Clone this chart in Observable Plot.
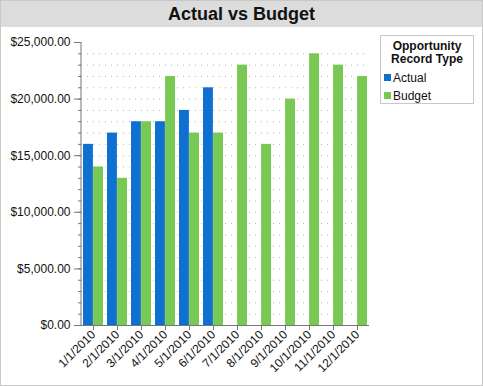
<!DOCTYPE html>
<html>
<head>
<meta charset="utf-8">
<script src="https://cdn.jsdelivr.net/npm/d3@7"></script>
<script src="https://cdn.jsdelivr.net/npm/@observablehq/plot@0.6"></script>
<style>
  body { margin: 0; background: #fff; font-family: "Liberation Sans", Arial, sans-serif; }
  #wrap { position: relative; width: 483px; height: 386px; overflow: hidden; background: #fff; }
  #border { position: absolute; left: 0; top: 0; width: 483px; height: 386px; box-sizing: border-box; border: 1px solid #c8c8c8; pointer-events: none; }
  #title { position: absolute; left: 0; top: 0; width: 483px; height: 27px; background: #dcdcdc; text-align: center; line-height: 29px; font-weight: bold; font-size: 18px; color: #111; }
  #chart { position: absolute; left: 0; top: 27px; }
  #legend { position: absolute; left: 380px; top: 35px; width: 94px; height: 69px; box-sizing: border-box; border: 1px solid #c8c8c8; background: #fff; font-size: 12px; color: #111; }
  #legend .lt { text-align: center; font-weight: bold; line-height: 13px; margin-top: 4px; margin-bottom: 3px; }
  #legend .item { position: relative; height: 18px; line-height: 18px; padding-left: 12px; }
  #legend .sw { position: absolute; left: 3px; top: 5px; width: 7px; height: 7px; }
</style>
</head>
<body>
<div id="wrap">
  <div id="title">Actual vs Budget</div>
  <div id="chart"></div>
  <div id="legend"></div>
  <div id="border"></div>
</div>
<script>
const months = ["1/1/2010","2/1/2010","3/1/2010","4/1/2010","5/1/2010","6/1/2010","7/1/2010","8/1/2010","9/1/2010","10/1/2010","11/1/2010","12/1/2010"];
const actualValues = [16000, 17000, 18000, 18000, 19000, 21000];
const budgetValues = [14000, 13000, 18000, 22000, 17000, 17000, 23000, 16000, 20000, 24000, 23000, 22000];
const seriesNames = ["Actual", "Budget"];
const seriesColors = ["#0e70d0", "#78c953"];
const yMajorTicks = [0, 5000, 10000, 15000, 20000, 25000];
const yMinorTicks = [0,1000,2000,3000,4000,5000,6000,7000,8000,9000,10000,11000,12000,13000,14000,15000,16000,17000,18000,19000,20000,21000,22000,23000,24000,25000];
const gridTicks = [1000,2000,3000,4000,5000,6000,7000,8000,9000,10000,11000,12000,13000,14000,15000,16000,17000,18000,19000,20000,21000,22000,23000,24000];
const legendTitle = ["Opportunity", "Record Type"];

const actualData = actualValues.map((v, i) => ({month: months[i], value: v}));
const budgetData = budgetValues.map((v, i) => ({month: months[i], value: v}));

const half = 10.1;
const fmt = d3.format(",.2f");

const plot = Plot.plot({
  width: 483,
  height: 359,
  marginTop: 15,
  marginBottom: 61,
  marginLeft: 81,
  marginRight: 114,
  style: {fontFamily: '"Liberation Sans", Arial, sans-serif', fontSize: "12px", color: "#111", background: "transparent"},
  x: {type: "band", domain: months, paddingInner: 0.17, paddingOuter: 0, align: 0.5},
  y: {domain: [0, 25000]},
  marks: [
    Plot.ruleY(gridTicks, {stroke: "#b4b4b4", strokeDasharray: "1,5"}),
    Plot.barY(actualData, {x: "month", y: "value", fill: seriesColors[0], insetRight: half}),
    Plot.barY(budgetData, {x: "month", y: "value", fill: seriesColors[1], insetLeft: half}),
    Plot.ruleY([0], {stroke: "#777"}),
    Plot.axisY({ticks: yMinorTicks, tickSize: 3, tickFormat: () => "", label: null, stroke: "#777"}),
    Plot.axisY({ticks: yMajorTicks, tickSize: 7, tickPadding: 4, tickFormat: d => "$" + fmt(d), label: null, stroke: "#777", fill: "#111", fontSize: 12}),
    Plot.axisX({tickRotate: -45, tickSize: 5, tickPadding: 2, label: null, stroke: "#777", fill: "#111", fontSize: 12})
  ]
});
document.getElementById("chart").appendChild(plot);

// vertical y axis line from the plot's own scales
const ys = plot.scale("y");
const xs = plot.scale("x");
const x0 = xs.range[0];
d3.select(plot).append("line")
  .attr("x1", x0).attr("x2", x0)
  .attr("y1", ys.apply(25000)).attr("y2", ys.apply(0))
  .attr("stroke", "#777");

// legend
const lg = d3.select("#legend");
lg.append("div").attr("class", "lt").html(legendTitle.join("<br>"));
seriesNames.forEach((n, i) => {
  const it = lg.append("div").attr("class", "item");
  it.append("span").attr("class", "sw").style("background", seriesColors[i]);
  it.append("span").text(n);
});
</script>
</body>
</html>
